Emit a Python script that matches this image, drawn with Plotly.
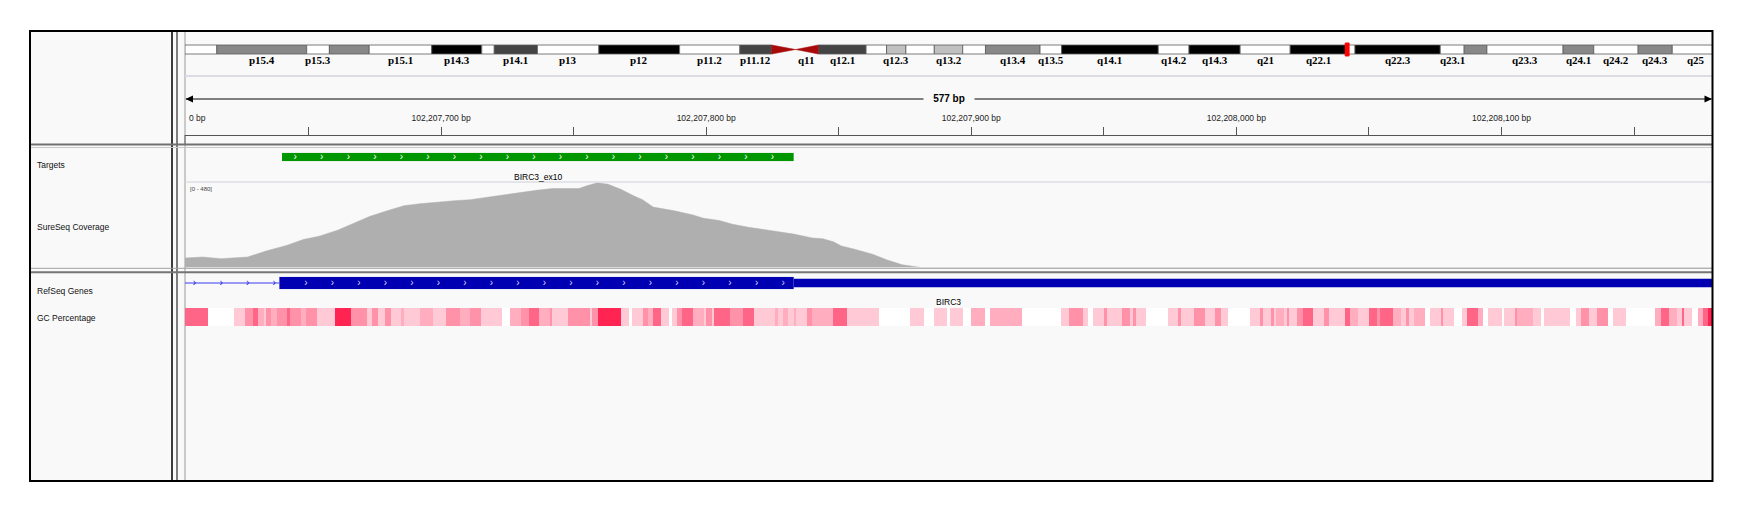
import numpy as np
import plotly.graph_objects as go

W, H = 1747, 517


def fx(x):
    return x / W


def fy(y):
    return 1 - y / H


# ---- view: chr11, 577 bp window around BIRC3 exon 10 ----
view_start = 102207603.4
view_end = 102208179.6

tick_vals = [102207650, 102207700, 102207750, 102207800, 102207850, 102207900,
             102207950, 102208000, 102208050, 102208100, 102208150]
tick_text = ["", "102,207,700 bp", "", "102,207,800 bp", "", "102,207,900 bp",
             "", "102,208,000 bp", "", "102,208,100 bp", ""]

# ---- chr11 cytobands (Mb) ----
cyto_start = [0, 2.8, 10.7, 12.7, 16.2, 21.7, 26.1, 27.2, 31.0, 36.4, 43.5, 48.8,
              51.6, 53.7, 55.7, 59.9, 61.7, 63.4, 65.9, 68.4, 70.4, 75.2, 77.1,
              85.6, 88.3, 92.8, 97.2, 102.1, 102.9, 110.4, 112.5, 114.5, 121.2,
              123.9, 127.8, 130.8]
cyto_end = cyto_start[1:] + [135.0]
cyto_stain = ["gneg", "gpos50", "gneg", "gpos50", "gneg", "gpos100", "gneg", "gpos75",
              "gneg", "gpos100", "gneg", "gpos75", "acen", "acen", "gpos75", "gneg",
              "gpos25", "gneg", "gpos25", "gneg", "gpos50", "gneg", "gpos100", "gneg",
              "gpos100", "gneg", "gpos100", "gneg", "gpos100", "gneg", "gpos50", "gneg",
              "gpos50", "gneg", "gpos50", "gneg"]
cyto_label = ["", "p15.4", "p15.3", "", "p15.1", "p14.3", "", "p14.1", "p13", "p12",
              "p11.2", "p11.12", "", "q11", "q12.1", "", "q12.3", "", "q13.2", "",
              "q13.4", "q13.5", "q14.1", "q14.2", "q14.3", "q21", "q22.1", "", "q22.3",
              "q23.1", "", "q23.3", "q24.1", "q24.2", "q24.3", "q25"]
stain_color = {"gneg": "#ffffff", "gpos25": "#c0c0c0", "gpos50": "#888888",
               "gpos75": "#444444", "gpos100": "#000000"}
ideo_end = 134.34

# ---- features ----
target_start, target_end = 102207640, 102207833
target_name = "BIRC3_ex10"
gene_start, gene_end = 102188181, 102210135
exon_start, exon_end = 102207639, 102207833   # coding part of last exon
gene_name = "BIRC3"

# ---- coverage (0-480) ----
cov_base = 102207000
cov_pos = [603, 610, 617, 627, 634, 642, 648, 654, 661, 667, 673, 680, 686, 692,
           699, 705, 711, 717, 723, 730, 736, 742, 752, 755, 759, 763, 768, 773,
           776, 780, 788, 795, 799, 805, 810, 816, 825, 833, 840, 844, 848, 851,
           856, 863, 868, 874, 881, 1180]
cov_val = [53, 59, 50, 59, 93, 126, 158, 177, 211, 250, 288, 322, 349, 360,
           371, 377, 383, 396, 411, 425, 436, 446, 446, 462, 478, 470, 440, 402,
           383, 341, 320, 297, 278, 265, 244, 227, 207, 189, 167, 162, 145, 122,
           103, 74, 44, 15, 0, 0]

# ---- GC percentage (shade level 0-5 per segment) ----
gc_start = [603, 612, 622, 626, 629, 631, 633, 634, 636, 638, 642, 643, 647, 649,
            653, 660, 666, 672, 674, 676, 679, 681, 685, 686, 692, 697, 702, 707,
            711, 715, 723, 726, 730, 733, 737, 741, 742, 748, 756, 757, 759, 768,
            771, 772, 776, 778, 780, 783, 786, 787, 789, 791, 795, 799, 800, 802,
            803, 809, 814, 818, 826, 827, 829, 831, 833, 834, 838, 840, 848, 853,
            865, 877, 882, 886, 891, 892, 897, 900, 905, 907, 919, 934, 937, 942,
            944, 946, 950, 951, 957, 960, 961, 962, 966, 974, 978, 979, 984, 988,
            992, 994, 997, 1005, 1009, 1010, 1013, 1014, 1015, 1018, 1019, 1020,
            1023, 1025, 1029, 1033, 1035, 1041, 1043, 1046, 1050, 1053, 1054, 1059,
            1062, 1064, 1065, 1067, 1071, 1073, 1077, 1078, 1082, 1085, 1087, 1091,
            1093, 1095, 1100, 1101, 1105, 1106, 1112, 1115, 1116, 1126, 1128, 1130,
            1133, 1136, 1140, 1142, 1147, 1158, 1160, 1163, 1166, 1168, 1169, 1172,
            1174, 1176, 1178]
gc_level = [4, 0, 1, 3, 4, 2, 1, 3, 2, 3, 4, 3, 2, 3,
            1, 5, 3, 1, 3, 1, 3, 1, 2, 1, 2, 1, 3, 2,
            3, 1, 0, 2, 3, 4, 2, 3, 1, 3, 1, 3, 5, 1,
            0, 1, 3, 2, 4, 1, 0, 1, 3, 4, 2, 1, 3, 1,
            4, 3, 4, 1, 2, 1, 2, 1, 2, 1, 3, 2, 4, 1,
            0, 1, 0, 1, 0, 1, 0, 2, 0, 2, 0, 1, 3, 1,
            0, 1, 3, 1, 3, 1, 3, 1, 0, 1, 3, 1, 3, 1,
            3, 1, 0, 1, 3, 1, 3, 1, 2, 1, 3, 1,
            3, 4, 1, 3, 1, 4, 2, 1, 4, 3, 4, 2,
            1, 3, 1, 2, 0, 1, 3, 1, 0, 1, 4, 2,
            0, 1, 0, 1, 3, 2, 1, 0, 1, 0, 1, 3,
            1, 3, 0, 1, 0, 2, 4, 2, 1, 4, 1, 0,
            2, 4, 5]
gc_colors = ["#ffffff", "#ffcad6", "#ffadbf", "#ff91a8", "#ff6586", "#ff2452"]

gc_edges = [cov_base + s for s in gc_start] + [view_end]

# ---- figure ----
fig = go.Figure()

# empty trace so the ruler subplot (x2/y2) exists
fig.add_trace(go.Scatter(x=[view_start], y=[-1], mode="markers", xaxis="x2", yaxis="y2",
                         marker=dict(opacity=0), hoverinfo="skip"))

# coverage
fig.add_trace(go.Scatter(
    x=[cov_base + p for p in cov_pos], y=cov_val, mode="lines",
    fill="tozeroy", fillcolor="#afafaf", line=dict(color="#afafaf", width=0.5),
    xaxis="x2", yaxis="y4", hoverinfo="skip"))

# target bar + chevrons
fig.add_trace(go.Bar(
    x=[target_end - target_start], base=[target_start], y=[0.5], width=[1],
    orientation="h", marker=dict(color="#009600", line_width=0),
    xaxis="x2", yaxis="y3", hoverinfo="skip"))
t_chev = np.arange(target_start + 5, target_end, 10)
fig.add_trace(go.Scatter(
    x=t_chev, y=[0.5] * len(t_chev), mode="text", text=["›"] * len(t_chev),
    textfont=dict(color="white", size=10, family="Liberation Sans"),
    xaxis="x2", yaxis="y3", hoverinfo="skip"))

# gene: intron line, exon, 3' UTR
fig.add_trace(go.Scatter(
    x=[gene_start, exon_start], y=[0.5, 0.5], mode="lines",
    line=dict(color="#3c3cf0", width=1), xaxis="x2", yaxis="y5", hoverinfo="skip"))
i_chev = np.arange(exon_start - 32, exon_start, 10)
fig.add_trace(go.Scatter(
    x=i_chev, y=[0.5] * len(i_chev), mode="text", text=["›"] * len(i_chev),
    textfont=dict(color="#2020e0", size=10, family="Liberation Sans"),
    xaxis="x2", yaxis="y5", hoverinfo="skip"))
fig.add_trace(go.Bar(
    x=[exon_end - exon_start, gene_end - exon_end], base=[exon_start, exon_end],
    y=[0.5, 0.5], width=[1, 0.67], orientation="h",
    marker=dict(color="#0000b2", line_width=0),
    xaxis="x2", yaxis="y5", hoverinfo="skip"))
e_chev = np.arange(exon_start + 10, exon_end, 10)
fig.add_trace(go.Scatter(
    x=e_chev, y=[0.5] * len(e_chev), mode="text", text=["›"] * len(e_chev),
    textfont=dict(color="#d8d8ff", size=10, family="Liberation Sans"),
    xaxis="x2", yaxis="y5", hoverinfo="skip"))

# GC heatmap
n_lv = len(gc_colors) - 1
fig.add_trace(go.Heatmap(
    x=gc_edges, y=[0], z=[gc_level], zmin=0, zmax=n_lv,
    colorscale=[[i / n_lv, c] for i, c in enumerate(gc_colors)],
    showscale=False, xaxis="x2", yaxis="y6", hoverinfo="skip"))

# ---- frame & separators ----
shapes = []


def rect(x0, y0, x1, y1, fill=None, line=None, lw=0, layer="below"):
    return dict(type="rect", xref="paper", yref="paper", x0=fx(x0), x1=fx(x1),
                y0=fy(y1), y1=fy(y0), fillcolor=fill or "rgba(0,0,0,0)",
                line=dict(color=line or "rgba(0,0,0,0)", width=lw), layer=layer)


def hline(y, x0, x1, color, w):
    return dict(type="line", xref="paper", yref="paper", x0=fx(x0), x1=fx(x1),
                y0=fy(y), y1=fy(y), line=dict(color=color, width=w), layer="below")


def vline(x, y0, y1, color, w):
    return dict(type="line", xref="paper", yref="paper", x0=fx(x), x1=fx(x),
                y0=fy(y0), y1=fy(y1), line=dict(color=color, width=w), layer="below")


L, R, T, B = 30, 1712.5, 31, 481
shapes.append(rect(L, T, R, B, fill="#f9f9f9"))
shapes.append(vline(172, T, B, "#3a3a3a", 2))
shapes.append(vline(177, T, B, "#555555", 1.5))
shapes.append(vline(185, T, B, "#9a9a9a", 1))
shapes.append(hline(76, 185, R, "#dcdce4", 2))
shapes.append(vline(185, 135, 144, "#666666", 1))
shapes.append(hline(144.5, L, R, "#707070", 2))
shapes.append(hline(147.5, L, R, "#c8c8c8", 1))
shapes.append(hline(182, 185, R, "#dcdce6", 1.5))
shapes.append(hline(268.3, L, R, "#a0a0a0", 1))
shapes.append(hline(272.3, L, R, "#757575", 2))

# ruler arrow line
shapes.append(hline(99, 186, R - 1, "#808080", 2))
shapes.append(dict(type="path", xref="paper", yref="paper", layer="below",
                   path=f"M {fx(185.5)},{fy(99)} L {fx(193)},{fy(95.5)} L {fx(193)},{fy(102.5)} Z",
                   fillcolor="#000000", line=dict(width=0)))
shapes.append(dict(type="path", xref="paper", yref="paper", layer="below",
                   path=f"M {fx(1712)},{fy(99)} L {fx(1704.5)},{fy(95.5)} L {fx(1704.5)},{fy(102.5)} Z",
                   fillcolor="#000000", line=dict(width=0)))

# ideogram bands
for s, e, st in zip(cyto_start, cyto_end, cyto_stain):
    if st == "acen":
        continue
    shapes.append(dict(type="rect", xref="x", yref="y", x0=s, x1=e, y0=0, y1=1,
                       fillcolor=stain_color[st], line=dict(color="#5a5a5a", width=0.8),
                       layer="below"))
for s, e, st in zip(cyto_start, cyto_end, cyto_stain):
    if st != "acen":
        continue
    if s < 53.0:
        p = f"M {s},0 L {s},1 L {e},0.5 Z"
    else:
        p = f"M {e},0 L {e},1 L {s},0.5 Z"
    shapes.append(dict(type="path", xref="x", yref="y", path=p, fillcolor="#a80a0a",
                       line=dict(color="#a80a0a", width=0.5), layer="below"))
cur = (view_start + view_end) / 2e6
shapes.append(dict(type="rect", xref="x", yref="y", x0=cur - 0.17, x1=cur + 0.17,
                   y0=-0.22, y1=1.22, fillcolor="#ff0000", line=dict(color="#ff0000", width=1),
                   layer="below"))

shapes.append(rect(L, T, R, B, line="#000000", lw=2, layer="above"))

# ---- text ----
sans = "Liberation Sans"
ann = []


def label(text, x, y, size=9, xanchor="left", color="#000000", xref="paper", **kw):
    d = dict(text=text, x=x, y=fy(y), xref=xref, yref="paper", showarrow=False,
             xanchor=xanchor, yanchor="middle", font=dict(family=sans, size=size, color=color))
    d.update(kw)
    return d


for name, y in [("Targets", 165), ("SureSeq Coverage", 227),
                ("RefSeq Genes", 291), ("GC Percentage", 318)]:
    ann.append(label(name, fx(35), y, size=8.5, color="#111111"))

ann.append(label("[0 - 480]", fx(188), 189, size=6, color="#444444"))
ann.append(label(target_name, (target_start + target_end) / 2, 177, size=8.5,
                 xanchor="center", xref="x2"))
vis_mid = (max(gene_start, view_start) + min(gene_end, view_end)) / 2
ann.append(label(gene_name, vis_mid, 302, size=8.5, xanchor="center", xref="x2"))
ann.append(label("<b>%d bp</b>" % round(view_end - view_start + 1), fx(949), 99, size=10,
                 xanchor="center", bgcolor="#f9f9f9", width=48))
ann.append(label("0 bp", fx(187), 118, size=8.5, color="#222222"))

for s, e, lab in zip(cyto_start, cyto_end, cyto_label):
    if lab:
        ann.append(dict(text=f"<b>{lab}</b>", x=(s + e) / 2, y=fy(60), xref="x", yref="paper",
                        showarrow=False, xanchor="center", yanchor="middle",
                        font=dict(family="Liberation Serif", size=11, color="#000000")))

dom = [fx(185), fx(1712.5)]
hidden = dict(visible=False, fixedrange=True)
fig.update_layout(
    width=W, height=H, margin=dict(l=0, r=0, t=0, b=0),
    paper_bgcolor="white", plot_bgcolor="rgba(0,0,0,0)", showlegend=False,
    barmode="overlay",
    xaxis=dict(domain=dom, range=[0, ideo_end], anchor="y", **hidden),
    yaxis=dict(domain=[fy(58), fy(40)], range=[-4 / 9, 14 / 9], anchor="x", **hidden),
    xaxis2=dict(domain=dom, range=[view_start, view_end], anchor="y2", side="bottom",
                showline=True, linecolor="#555555", linewidth=1, ticks="inside",
                ticklen=8, tickwidth=1, tickcolor="#555555", tickvals=tick_vals,
                ticktext=tick_text, ticklabelposition="inside", ticklabelstandoff=3,
                tickfont=dict(family=sans, size=8.5, color="#222222"),
                showgrid=False, zeroline=False, fixedrange=True),
    yaxis2=dict(domain=[fy(135), fy(110)], range=[0, 1], anchor="x2", **hidden),
    yaxis3=dict(domain=[fy(161.3), fy(152.7)], range=[0, 1], anchor="x2", **hidden),
    yaxis4=dict(domain=[fy(267.5), fy(182.5)], range=[0, 480], anchor="x2", **hidden),
    yaxis5=dict(domain=[fy(289.3), fy(276.7)], range=[0, 1], anchor="x2", **hidden),
    yaxis6=dict(domain=[fy(326), fy(308)], range=[-0.5, 0.5], anchor="x2", **hidden),
    shapes=shapes, annotations=ann,
)

fig.write_html("out.html", config={"displayModeBar": False},
               post_script="document.body.style.margin='0px';")
